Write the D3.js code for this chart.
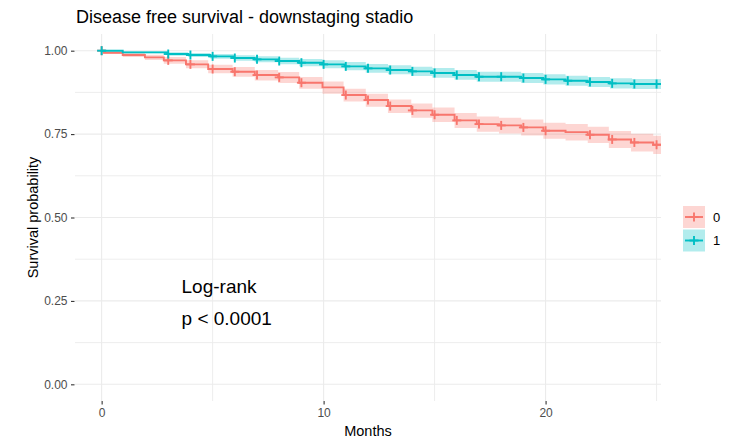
<!DOCTYPE html>
<html>
<head>
<meta charset="utf-8">
<script src="https://cdn.jsdelivr.net/npm/d3@7"></script>
<style>
  html, body { margin: 0; padding: 0; background: #ffffff; }
  svg { display: block; font-family: "Liberation Sans", Arial, sans-serif; }
</style>
</head>
<body>
<svg id="chart" width="736" height="441"></svg>
<script>
// Kaplan-Meier estimates, group "0"
const times0 = [0, 0.1, 0.95, 1.95, 2.8, 3.8, 4.8, 5.9, 6.9, 7.95, 8.9, 9.95, 10.9, 11.9, 12.9, 13.95, 14.9, 15.9, 16.9, 17.9, 18.9, 19.9, 20.9, 21.9, 22.85, 23.85, 24.85];
const surv0  = [1.000, 0.994, 0.987, 0.980, 0.971, 0.959, 0.945, 0.937, 0.927, 0.920, 0.904, 0.890, 0.867, 0.852, 0.834, 0.821, 0.808, 0.791, 0.780, 0.776, 0.770, 0.760, 0.756, 0.748, 0.734, 0.725, 0.718];
const lower0 = [1.000, 0.990, 0.981, 0.972, 0.961, 0.947, 0.932, 0.922, 0.911, 0.903, 0.886, 0.871, 0.848, 0.832, 0.813, 0.799, 0.786, 0.768, 0.757, 0.752, 0.746, 0.736, 0.731, 0.723, 0.708, 0.698, 0.690];
const upper0 = [1.000, 0.998, 0.993, 0.988, 0.981, 0.971, 0.958, 0.951, 0.942, 0.936, 0.921, 0.908, 0.886, 0.871, 0.854, 0.842, 0.830, 0.813, 0.803, 0.799, 0.794, 0.784, 0.780, 0.772, 0.759, 0.751, 0.745];
const censor0 = [0, 3, 4, 5, 6, 7, 8, 9, 11, 12, 13, 14, 15, 16, 17, 18, 19, 20, 22, 23, 24, 25];

// Kaplan-Meier estimates, group "1"
const times1 = [0, 0.95, 2.95, 3.9, 4.9, 5.95, 6.9, 7.95, 8.9, 9.95, 10.95, 11.9, 12.9, 13.95, 14.9, 15.9, 16.9, 18.9, 19.9, 20.9, 21.9, 22.9, 23.9];
const surv1  = [1.000, 0.995, 0.990, 0.987, 0.983, 0.978, 0.974, 0.969, 0.964, 0.959, 0.953, 0.947, 0.942, 0.938, 0.933, 0.927, 0.922, 0.918, 0.914, 0.910, 0.906, 0.902, 0.900];
const lower1 = [1.000, 0.992, 0.985, 0.981, 0.976, 0.970, 0.965, 0.959, 0.953, 0.947, 0.941, 0.934, 0.929, 0.924, 0.919, 0.913, 0.907, 0.903, 0.899, 0.895, 0.891, 0.887, 0.885];
const upper1 = [1.000, 0.998, 0.995, 0.993, 0.990, 0.986, 0.983, 0.979, 0.975, 0.971, 0.966, 0.960, 0.956, 0.952, 0.948, 0.942, 0.937, 0.933, 0.929, 0.925, 0.921, 0.917, 0.915];
const censor1 = [0, 3, 4, 5, 6, 7, 8, 9, 10, 11, 12, 13, 14, 15, 16, 17, 18, 19, 20, 21, 22, 23, 24, 25];

const followUpEnd = 25.6;
const groupNames = ["0", "1"];
const groupColors = ["#F8766D", "#00BFC4"];
const xTicks = [0, 10, 20];
const xMinorTicks = [5, 15, 25];
const yTicks = [0, 0.25, 0.5, 0.75, 1];
const yMinorTicks = [0.125, 0.375, 0.625, 0.875];
const titleText = "Disease free survival - downstaging stadio";
const xTitle = "Months";
const yTitle = "Survival probability";
const testLines = ["Log-rank", "p < 0.0001"];

const svg = d3.select("#chart");
const panel = { left: 75, right: 661, top: 34, bottom: 401 };

// axis limits 0..24 and 0..1, padded by 5%
const x = d3.scaleLinear().domain([-1.2, 25.2]).range([panel.left, panel.right]);
const y = d3.scaleLinear().domain([-0.05, 1.05]).range([panel.bottom, panel.top]);

svg.append("defs").append("clipPath").attr("id", "panelClip")
  .append("rect")
  .attr("x", panel.left).attr("y", panel.top)
  .attr("width", panel.right - panel.left).attr("height", panel.bottom - panel.top);

// grid
const grid = svg.append("g").attr("stroke", "#ebebeb").attr("fill", "none");
grid.selectAll("line.vmin").data(xMinorTicks).join("line")
  .attr("x1", d => x(d)).attr("x2", d => x(d))
  .attr("y1", panel.top).attr("y2", panel.bottom).attr("stroke-width", 0.9);
grid.selectAll("line.vmaj").data(xTicks).join("line")
  .attr("x1", d => x(d)).attr("x2", d => x(d))
  .attr("y1", panel.top).attr("y2", panel.bottom).attr("stroke-width", 1.1);
grid.selectAll("line.hmin").data(yMinorTicks).join("line")
  .attr("y1", d => y(d)).attr("y2", d => y(d))
  .attr("x1", panel.left).attr("x2", panel.right).attr("stroke-width", 0.9);
grid.selectAll("line.hmaj").data(yTicks).join("line")
  .attr("y1", d => y(d)).attr("y2", d => y(d))
  .attr("x1", panel.left).attr("x2", panel.right).attr("stroke-width", 1.1);

// build step data per group
function buildSeries(times, surv, lower, upper) {
  const pts = times.map((t, i) => ({ t, s: surv[i], lo: lower[i], hi: upper[i] }));
  const last = pts[pts.length - 1];
  pts.push({ t: followUpEnd, s: last.s, lo: last.lo, hi: last.hi });
  return pts;
}
function survAt(times, surv, t) {
  let v = surv[0];
  for (let i = 0; i < times.length; i++) if (times[i] <= t) v = surv[i];
  return v;
}

const groups = [
  { name: groupNames[0], color: groupColors[0], pts: buildSeries(times0, surv0, lower0, upper0), censor: censor0.map(t => ({ t, s: survAt(times0, surv0, t) })) },
  { name: groupNames[1], color: groupColors[1], pts: buildSeries(times1, surv1, lower1, upper1), censor: censor1.map(t => ({ t, s: survAt(times1, surv1, t) })) }
];

const plot = svg.append("g").attr("clip-path", "url(#panelClip)");

const band = d3.area().curve(d3.curveStepAfter)
  .x(d => x(d.t)).y0(d => y(d.lo)).y1(d => y(d.hi));
const line = d3.line().curve(d3.curveStepAfter)
  .x(d => x(d.t)).y(d => y(d.s));

groups.forEach(g => {
  plot.append("path").datum(g.pts)
    .attr("d", band).attr("fill", g.color).attr("fill-opacity", 0.3).attr("stroke", "none");
});
groups.forEach(g => {
  plot.append("path").datum(g.pts)
    .attr("d", line).attr("fill", "none").attr("stroke", g.color).attr("stroke-width", 1.9);
  const marks = plot.append("g").attr("stroke", g.color).attr("stroke-width", 1.9);
  marks.selectAll("line.h").data(g.censor).join("line")
    .attr("x1", d => x(d.t) - 4.5).attr("x2", d => x(d.t) + 4.5)
    .attr("y1", d => y(d.s)).attr("y2", d => y(d.s));
  marks.selectAll("line.v").data(g.censor).join("line")
    .attr("x1", d => x(d.t)).attr("x2", d => x(d.t))
    .attr("y1", d => y(d.s) - 4.5).attr("y2", d => y(d.s) + 4.5);
});

// axes
const yAxis = svg.append("g").attr("transform", `translate(${panel.left},0)`)
  .call(d3.axisLeft(y).tickValues(yTicks).tickFormat(d3.format(".2f")).tickSize(3.5).tickPadding(4));
const xAxis = svg.append("g").attr("transform", `translate(0,${panel.bottom})`)
  .call(d3.axisBottom(x).tickValues(xTicks).tickFormat(d3.format("d")).tickSize(3.5).tickPadding(4));
[yAxis, xAxis].forEach(a => {
  a.select(".domain").remove();
  a.selectAll(".tick line").attr("stroke", "#333333").attr("stroke-width", 1.1);
  a.selectAll(".tick text").attr("fill", "#4d4d4d")
    .style("font-family", "'Liberation Sans', Arial, sans-serif").style("font-size", "12px");
});
yAxis.selectAll(".tick line").attr("transform", "translate(-0.5,0)");

// titles
svg.append("text").attr("x", 76).attr("y", 23)
  .attr("fill", "#000").style("font-size", "18px").text(titleText);
svg.append("text").attr("x", (panel.left + panel.right) / 2).attr("y", 436)
  .attr("text-anchor", "middle").attr("fill", "#000").style("font-size", "14.5px").text(xTitle);
svg.append("text")
  .attr("transform", `translate(38,${(panel.top + panel.bottom) / 2}) rotate(-90)`)
  .attr("text-anchor", "middle").attr("fill", "#000").style("font-size", "14.5px").text(yTitle);

// log-rank annotation
svg.append("text").attr("x", x(3.6)).attr("y", y(0.275))
  .attr("fill", "#000").style("font-size", "19px").text(testLines[0]);
svg.append("text").attr("x", x(3.6)).attr("y", y(0.178))
  .attr("fill", "#000").style("font-size", "19px").text(testLines[1]);

// legend
const legend = svg.append("g").attr("transform", "translate(683,206)");
groups.forEach((g, i) => {
  const k = legend.append("g").attr("transform", `translate(0,${i * 23.5})`);
  k.append("rect").attr("width", 22).attr("height", 22)
    .attr("fill", g.color).attr("fill-opacity", 0.3);
  k.append("line").attr("x1", 2).attr("x2", 20).attr("y1", 11).attr("y2", 11)
    .attr("stroke", g.color).attr("stroke-width", 1.9);
  k.append("line").attr("x1", 6.5).attr("x2", 15.5).attr("y1", 11).attr("y2", 11)
    .attr("stroke", g.color).attr("stroke-width", 1.9);
  k.append("line").attr("x1", 11).attr("x2", 11).attr("y1", 6.5).attr("y2", 15.5)
    .attr("stroke", g.color).attr("stroke-width", 1.9);
  k.append("text").attr("x", 30).attr("y", 11).attr("dy", "0.36em")
    .attr("fill", "#000").style("font-size", "13px").text(g.name);
});
</script>
</body>
</html>
